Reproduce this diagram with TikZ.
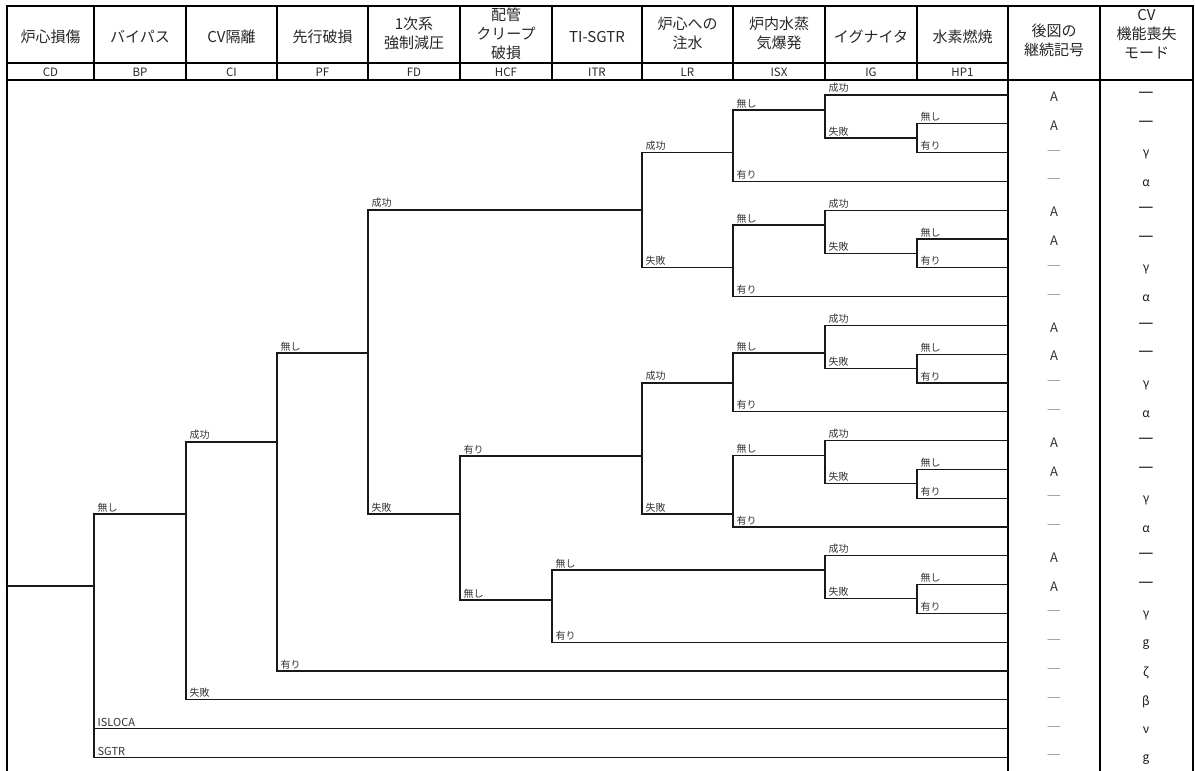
\documentclass[tikz,border=0pt]{standalone}
\usepackage{fontspec}
\setmainfont{Noto Sans CJK JP}
\begin{document}
\begin{tikzpicture}[x=1pt,y=-1pt,
  tree/.style={line width=1.3pt, black!90},
  frame/.style={line width=1.3pt, black},
  lbl/.style={anchor=south west, inner sep=0pt, xshift=3pt, yshift=1.5pt, text=black!80, font=\fontsize{10}{10}\selectfont},
  lbllat/.style={lbl, font=\fontsize{11}{11}\selectfont},
  hdr/.style={font=\fontsize{15}{19}\selectfont, align=center, text=black!85, inner sep=0pt},
  code/.style={font=\fontsize{11.5}{11.5}\selectfont, text=black!85, inner sep=0pt},
  cont/.style={font=\fontsize{13}{13}\selectfont, text=black!80, inner sep=0pt},
  contdash/.style={font=\fontsize{16}{16}\selectfont, text=black!35, inner sep=0pt},
  cvdash/.style={font=\fontsize{17}{17}\selectfont, text=black, inner sep=0pt},
  cvsym/.style={font=\fontsize{12}{12}\selectfont, text=black!90, inner sep=0pt},
]
\useasboundingbox (0,0) rectangle (1195,771);
% ---------- frame and header ----------
\draw[frame] (7,771) -- (7,6) -- (1193,6) -- (1193,771);
\draw[frame] (7,63) -- (1008,63);
\draw[frame] (7,80) -- (1193,80);
\foreach \x in {94,186,277,368,460,552,642,733,825,917}
  \draw[frame] (\x,6) -- (\x,80);
\draw[line width=2pt] (1008,6) -- (1008,771);
\draw[line width=2.5pt] (1100,6) -- (1100,771);

\node[hdr] (h1) at (50.5,37) {炉心損傷};
\node[hdr] (h2) at (140,37) {バイパス};
\node[hdr] (h3) at (231.5,37) {CV隔離};
\node[hdr] (h4) at (322.5,37) {先行破損};
\node[hdr] (h5) at (414,33) {1次系\\強制減圧};
\node[hdr] (h6) at (506,34) {配管\\クリープ\\破損};
\node[hdr] (h7) at (597,37) {TI-SGTR};
\node[hdr] (h8) at (687.5,33) {炉心への\\注水};
\node[hdr] (h9) at (779,33) {炉内水蒸\\気爆発};
\node[hdr] (h10) at (871,37) {イグナイタ};
\node[hdr] (h11) at (962.5,37) {水素燃焼};
\node[hdr] (h12) at (1054,40) {後図の\\継続記号};
\node[hdr] (h13) at (1146.5,34) {CV\\機能喪失\\モード};

\node[code] (c1) at (50.5,72) {CD};
\node[code] (c2) at (140,72) {BP};
\node[code] (c3) at (231.5,72) {CI};
\node[code] (c4) at (322.5,72) {PF};
\node[code] (c5) at (414,72) {FD};
\node[code] (c6) at (506,72) {HCF};
\node[code] (c7) at (597,72) {ITR};
\node[code] (c8) at (687.5,72) {LR};
\node[code] (c9) at (779,72) {ISX};
\node[code] (c10) at (871,72) {IG};
\node[code] (c11) at (962.5,72) {HP1};

% ---------- tree junctions ----------
\coordinate (start) at (7,586);
\coordinate (BP) at (94,586);
\coordinate (CI) at (186,514);
\coordinate (PF) at (277,442);
\coordinate (FD) at (368,353);
\coordinate (LRa) at (642,210);
\coordinate (HCF) at (460,514);
\coordinate (LRb) at (642,456);
\coordinate (ITR) at (552,600);
\coordinate (ISX0) at (733,152.6);
\coordinate (IG0) at (825,110);
\coordinate (HP0) at (917,138);
\coordinate (ISX1) at (733,267.8);
\coordinate (IG1) at (825,225);
\coordinate (HP1) at (917,253.2);
\coordinate (ISX2) at (733,383);
\coordinate (IG2) at (825,353);
\coordinate (HP2) at (917,368.4);
\coordinate (ISX3) at (733,514);
\coordinate (IG3) at (825,455.6);
\coordinate (HP3) at (917,483.6);
\coordinate (IG4) at (825,570);
\coordinate (HP4) at (917,598.8);
\foreach \i in {0,...,23}
  \coordinate (E\i) at (1008,{95+28.8*\i});

% ---------- tree connectors ----------
\draw[tree] (start) -- (BP);
\draw[tree] (BP) |- node[lbl]{無し} (CI);
\draw[tree] (BP) |- node[lbllat]{ISLOCA} (E22);
\draw[tree] (BP) |- node[lbllat]{SGTR} (E23);
\draw[tree] (CI) |- node[lbl]{成功} (PF);
\draw[tree] (CI) |- node[lbl]{失敗} (E21);
\draw[tree] (PF) |- node[lbl]{無し} (FD);
\draw[tree] (PF) |- node[lbl]{有り} (E20);
\draw[tree] (FD) |- node[lbl]{成功} (LRa);
\draw[tree] (FD) |- node[lbl]{失敗} (HCF);
\draw[tree] (HCF) |- node[lbl]{有り} (LRb);
\draw[tree] (HCF) |- node[lbl]{無し} (ITR);
\draw[tree] (ITR) |- node[lbl]{無し} (IG4);
\draw[tree] (ITR) |- node[lbl]{有り} (E19);
\draw[tree] (LRa) |- node[lbl]{成功} (ISX0);
\draw[tree] (LRa) |- node[lbl]{失敗} (ISX1);
\draw[tree] (LRb) |- node[lbl]{成功} (ISX2);
\draw[tree] (LRb) |- node[lbl]{失敗} (ISX3);
\foreach \k in {0,1,2,3}{
  \pgfmathtruncatemacro{\a}{4*\k}
  \pgfmathtruncatemacro{\b}{4*\k+1}
  \pgfmathtruncatemacro{\c}{4*\k+2}
  \pgfmathtruncatemacro{\d}{4*\k+3}
  \draw[tree] (ISX\k) |- node[lbl]{無し} (IG\k);
  \draw[tree] (ISX\k) |- node[lbl]{有り} (E\d);
  \draw[tree] (IG\k) |- node[lbl]{成功} (E\a);
  \draw[tree] (IG\k) |- node[lbl]{失敗} (HP\k);
  \draw[tree] (HP\k) |- node[lbl]{無し} (E\b);
  \draw[tree] (HP\k) |- node[lbl]{有り} (E\c);
}
\draw[tree] (IG4) |- node[lbl]{成功} (E16);
\draw[tree] (IG4) |- node[lbl]{失敗} (HP4);
\draw[tree] (HP4) |- node[lbl]{無し} (E17);
\draw[tree] (HP4) |- node[lbl]{有り} (E18);

% ---------- right columns ----------
\foreach \i in {0,1,4,5,8,9,12,13,16,17}{
  \node[cont] (k\i) at (1054,{97+28.8*\i}) {A};
  \node[cvdash] (m\i) at (1146,{95+28.8*\i}) {—};
}
\foreach \i in {2,3,6,7,10,11,14,15,18,19,20,21,22,23}
  \node[contdash] (k\i) at (1054,{95+28.8*\i}) {—};
\foreach \i in {2,6,10,14,18}
  \node[cvsym] (m\i) at (1146,{97+28.8*\i}) {γ};
\foreach \i in {3,7,11,15}
  \node[cvsym] (m\i) at (1146,{97+28.8*\i}) {α};
\node[cvsym] (m19) at (1146,{97+28.8*19}) {g};
\node[cvsym] (m20) at (1146,{97+28.8*20}) {ζ};
\node[cvsym] (m21) at (1146,{97+28.8*21}) {β};
\node[cvsym] (m22) at (1146,{97+28.8*22}) {ν};
\node[cvsym] (m23) at (1146,{97+28.8*23}) {g};
\end{tikzpicture}
\end{document}
